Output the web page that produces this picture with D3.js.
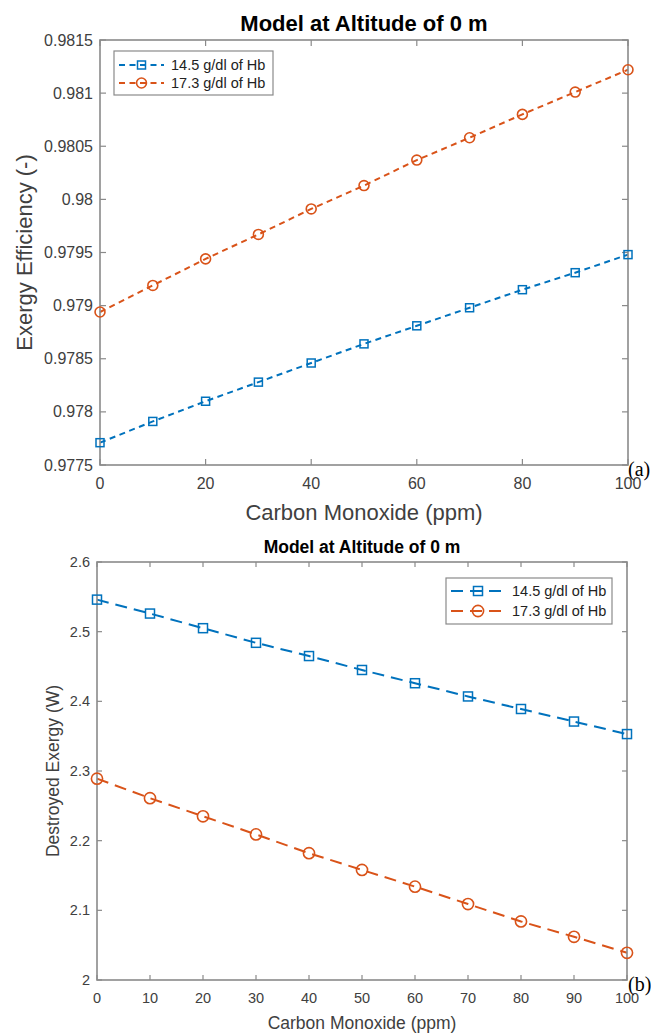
<!DOCTYPE html>
<html>
<head>
<meta charset="utf-8">
<script src="https://cdn.jsdelivr.net/npm/d3@7"></script>
<style>
  body { margin: 0; background: #fff; }
  svg text { font-family: "Liberation Sans", Arial, Helvetica, sans-serif; }
</style>
</head>
<body>
<div id="chart"></div>
<script>
// CO concentration (ppm)
var co = [0, 10, 20, 30, 40, 50, 60, 70, 80, 90, 100];

// (a) exergy efficiency
var effLow = [0.97771, 0.97791, 0.97810, 0.97828, 0.97846, 0.97864, 0.97881, 0.97898, 0.97915, 0.97931, 0.97948];
var effHigh = [0.97894, 0.97919, 0.97944, 0.97967, 0.97991, 0.98013, 0.98037, 0.98058, 0.98080, 0.98101, 0.98122];

// (b) destroyed exergy (W)
var destLow = [2.546, 2.526, 2.505, 2.484, 2.465, 2.445, 2.426, 2.407, 2.389, 2.371, 2.353];
var destHigh = [2.289, 2.261, 2.235, 2.209, 2.182, 2.158, 2.134, 2.109, 2.084, 2.062, 2.039];

var seriesNames = ["14.5 g/dl of Hb", "17.3 g/dl of Hb"];
var effTicks = [0.9775, 0.978, 0.9785, 0.979, 0.9795, 0.98, 0.9805, 0.981, 0.9815];
var destTicks = [2, 2.1, 2.2, 2.3, 2.4, 2.5, 2.6];
var xTicksA = [0, 20, 40, 60, 80, 100];
var xTicksB = [0, 10, 20, 30, 40, 50, 60, 70, 80, 90, 100];

var blue = "#0072BD", orange = "#D95319";
var axisColor = "#8a8a8a", textColor = "#404040";

var svg = d3.select("#chart").append("svg")
    .attr("width", 651)
    .attr("height", 1034);

function drawPanel(p) {
    var g = svg.append("g");
    var x = d3.scaleLinear().domain([0, 100]).range([p.left, p.right]);
    var y = d3.scaleLinear().domain(p.yDomain).range([p.bottom, p.top]);

    // series
    var line = d3.line()
        .x(function(d, i){ return x(co[i]); })
        .y(function(d){ return y(d); });

    p.series.forEach(function(s){
        g.append("path")
            .datum(s.values)
            .attr("d", line)
            .attr("fill", "none")
            .attr("stroke", s.color)
            .attr("stroke-width", p.lineWidth)
            .attr("stroke-dasharray", p.dash);
    });

    // box
    g.append("rect")
        .attr("x", p.left).attr("y", p.top)
        .attr("width", p.right - p.left).attr("height", p.bottom - p.top)
        .attr("fill", "none")
        .attr("stroke", axisColor)
        .attr("stroke-width", 1.6);

    // ticks
    var tl = p.tickLen;
    p.xTicks.forEach(function(t){
        g.append("line").attr("x1", x(t)).attr("x2", x(t))
            .attr("y1", p.bottom).attr("y2", p.bottom - tl)
            .attr("stroke", axisColor).attr("stroke-width", 1.2);
        g.append("line").attr("x1", x(t)).attr("x2", x(t))
            .attr("y1", p.top).attr("y2", p.top + tl)
            .attr("stroke", axisColor).attr("stroke-width", 1.2);
        g.append("text")
            .attr("x", x(t)).attr("y", p.bottom + p.xTickDy)
            .attr("text-anchor", "middle")
            .attr("font-size", p.tickFont)
            .attr("fill", textColor)
            .text(t);
    });
    p.yTicks.forEach(function(t){
        g.append("line").attr("x1", p.left).attr("x2", p.left + tl)
            .attr("y1", y(t)).attr("y2", y(t))
            .attr("stroke", axisColor).attr("stroke-width", 1.2);
        g.append("line").attr("x1", p.right).attr("x2", p.right - tl)
            .attr("y1", y(t)).attr("y2", y(t))
            .attr("stroke", axisColor).attr("stroke-width", 1.2);
        g.append("text")
            .attr("x", p.left - 7).attr("y", y(t))
            .attr("dy", "0.35em")
            .attr("text-anchor", "end")
            .attr("font-size", p.tickFont)
            .attr("fill", textColor)
            .text(String(t));
    });

    // markers
    p.series.forEach(function(s){
        var m = g.selectAll(null).data(s.values).enter();
        if (s.marker == "square") {
            m.append("rect")
                .attr("x", function(d, i){ return x(co[i]) - p.markerSize / 2; })
                .attr("y", function(d){ return y(d) - p.markerSize / 2; })
                .attr("width", p.markerSize).attr("height", p.markerSize)
                .attr("fill", "none").attr("stroke", s.color).attr("stroke-width", 1.5);
        } else {
            m.append("circle")
                .attr("cx", function(d, i){ return x(co[i]); })
                .attr("cy", function(d){ return y(d); })
                .attr("r", p.markerSize * 0.62)
                .attr("fill", "none").attr("stroke", s.color).attr("stroke-width", 1.6);
        }
    });

    // legend
    var lg = p.legend;
    g.append("rect")
        .attr("x", lg.x).attr("y", lg.y)
        .attr("width", lg.w).attr("height", lg.h)
        .attr("fill", "#fff").attr("stroke", axisColor).attr("stroke-width", 1.2);
    p.series.forEach(function(s, i){
        var ry = lg.y + lg.rowY[i];
        g.append("line")
            .attr("x1", lg.x + 5).attr("x2", lg.x + lg.sample)
            .attr("y1", ry).attr("y2", ry)
            .attr("stroke", s.color).attr("stroke-width", p.lineWidth)
            .attr("stroke-dasharray", lg.dash);
        var mx = lg.x + 5 + (lg.sample - 5) / 2;
        if (s.marker == "square") {
            g.append("rect").attr("x", mx - p.markerSize / 2).attr("y", ry - p.markerSize / 2)
                .attr("width", p.markerSize).attr("height", p.markerSize)
                .attr("fill", "none").attr("stroke", s.color).attr("stroke-width", 1.5);
        } else {
            g.append("circle").attr("cx", mx).attr("cy", ry).attr("r", p.markerSize * 0.62)
                .attr("fill", "none").attr("stroke", s.color).attr("stroke-width", 1.6);
        }
        g.append("text")
            .attr("x", lg.x + lg.sample + 7).attr("y", ry)
            .attr("dy", "0.35em")
            .attr("font-size", lg.font)
            .attr("fill", "#222")
            .text(seriesNames[i]);
    });

    // title and labels
    g.append("text")
        .attr("x", (p.left + p.right) / 2).attr("y", p.top - p.titleDy)
        .attr("text-anchor", "middle")
        .attr("font-size", p.titleFont)
        .attr("font-weight", "bold")
        .attr("fill", "#000")
        .text("Model at Altitude of 0 m");

    g.append("text")
        .attr("x", (p.left + p.right) / 2).attr("y", p.bottom + p.xLabelDy)
        .attr("text-anchor", "middle")
        .attr("font-size", p.labelFont)
        .attr("fill", textColor)
        .text("Carbon Monoxide (ppm)");

    g.append("text")
        .attr("transform", "translate(" + p.yLabelX + "," + (p.top + p.bottom) / 2 + ") rotate(-90)")
        .attr("text-anchor", "middle")
        .attr("font-size", p.labelFont)
        .attr("fill", textColor)
        .text(p.yLabel);

    // panel tag, serif like the source figure
    g.append("text")
        .attr("x", 628).attr("y", p.bottom + 11)
        .style("font-family", "'Liberation Serif', 'Times New Roman', serif")
        .attr("font-size", 20)
        .attr("fill", "#000")
        .text(p.tag);
}

drawPanel({
    left: 100, right: 628, top: 40, bottom: 465,
    yDomain: [0.9775, 0.9815],
    xTicks: xTicksA, yTicks: effTicks,
    series: [
        {values: effLow, color: blue, marker: "square"},
        {values: effHigh, color: orange, marker: "circle"}
    ],
    lineWidth: 2, dash: "6,4.5", markerSize: 8, tickLen: 6,
    tickFont: 16, xTickDy: 24, labelFont: 22, xLabelDy: 55, yLabelX: 32,
    titleFont: 22, titleDy: 9,
    yLabel: "Exergy Efficiency (-)", tag: "(a)",
    legend: {x: 114, y: 51, w: 159, h: 44, rowY: [14, 32], sample: 50, font: 14.5, dash: "6,4.5"}
});

drawPanel({
    left: 97, right: 627, top: 562, bottom: 980,
    yDomain: [2, 2.6],
    xTicks: xTicksB, yTicks: destTicks,
    series: [
        {values: destLow, color: blue, marker: "square"},
        {values: destHigh, color: orange, marker: "circle"}
    ],
    lineWidth: 2, dash: "12,7", markerSize: 9, tickLen: 5,
    tickFont: 14.5, xTickDy: 23, labelFont: 17.5, xLabelDy: 49, yLabelX: 59,
    titleFont: 17.5, titleDy: 9,
    yLabel: "Destroyed Exergy (W)", tag: "(b)",
    legend: {x: 446, y: 578, w: 166, h: 46, rowY: [13, 33], sample: 59, font: 14.5, dash: "12,7"}
});
</script>
</body>
</html>
